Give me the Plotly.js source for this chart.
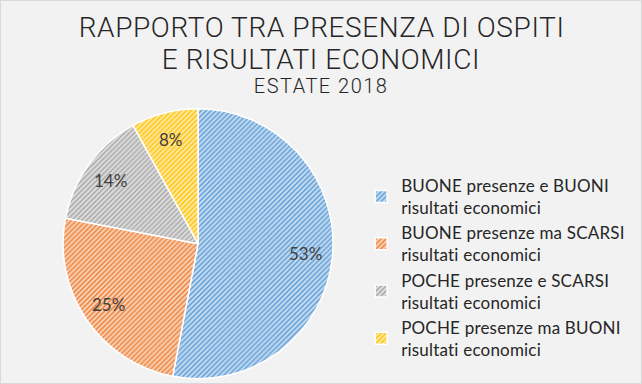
<!DOCTYPE html>
<html>
<head>
<meta charset="utf-8">
<script src="https://cdn.plot.ly/plotly-3.0.1.min.js"></script>
<style>
html,body{margin:0;padding:0;background:#f2f2f2;}
#chart{width:642px;height:384px;}
.legendtext{letter-spacing:0.2px;}
#chart g.annotation[data-index="0"] text,
#chart g.annotation[data-index="1"] text{letter-spacing:0.6px;}
#chart g.annotation[data-index="2"] text{letter-spacing:1.5px;}
</style>
</head>
<body>
<div id="chart"></div>
<script>
const categories = [
  "BUONE presenze e BUONI<br>risultati economici",
  "BUONE presenze ma SCARSI<br>risultati economici",
  "POCHE presenze e SCARSI<br>risultati economici",
  "POCHE presenze ma BUONI<br>risultati economici"
];
const values = [53, 25, 14, 8];
const fgColors = ["#5B9BD5", "#ED7D31", "#A5A5A5", "#FFC000"];
const bgColors = ["#C5DCF1", "#F9D2B8", "#DEDEDE", "#FFEAA6"];
const titleLines = ["RAPPORTO TRA PRESENZA DI OSPITI", "E RISULTATI ECONOMICI", "ESTATE 2018"];

const font = "Lato, 'Open Sans', sans-serif";
const titleFont = "Roboto, Lato, sans-serif";

const pieDomain = {x: [0.098, 0.519], y: [0.014, 0.717]};
const W = 642, H = 384;

const trace = {
  type: "pie",
  labels: categories,
  values: values,
  sort: false,
  direction: "clockwise",
  rotation: 0,
  textinfo: "none",
  marker: {
    colors: bgColors,
    line: {color: "#ffffff", width: 1.5},
    pattern: {shape: "/", fgcolor: fgColors, bgcolor: bgColors, size: 3.5, solidity: 0.4}
  },
  domain: pieDomain,
  hoverinfo: "none"
};

// percentage labels placed at 0.8 of the radius along each slice's mid angle
const total = values.reduce((a, b) => a + b, 0);
const cxPx = (pieDomain.x[0] + pieDomain.x[1]) / 2 * W;
const cyPx = (pieDomain.y[0] + pieDomain.y[1]) / 2 * H;
const rPx = Math.min((pieDomain.x[1] - pieDomain.x[0]) * W, (pieDomain.y[1] - pieDomain.y[0]) * H) / 2;
let cum = 0;
const pctAnnotations = values.map(v => {
  const mid = (cum + v / 2) / total * 2 * Math.PI;
  cum += v;
  const d = 0.8 * rPx;
  return {
    text: Math.round(v / total * 100) + "%",
    x: (cxPx + d * Math.sin(mid)) / W,
    y: (cyPx + d * Math.cos(mid)) / H,
    xref: "paper", yref: "paper", showarrow: false,
    xanchor: "center", yanchor: "middle",
    font: {family: font, size: 17, color: "#404040"}
  };
});

const titleAnnotations = titleLines.map((t, i) => ({
  text: t, x: 0.5, xref: "paper", yref: "paper", showarrow: false,
  y: [1 - 28/H, 1 - 59/H, 1 - 86/H][i], yanchor: "middle", xanchor: "center",
  font: {family: titleFont, size: i < 2 ? 28 : 20, color: "#262626", weight: 300}
}));

const layout = {
  width: W, height: H,
  margin: {l: 0, r: 0, t: 0, b: 0},
  paper_bgcolor: "#f2f2f2",
  showlegend: true,
  legend: {
    x: 0.5625, y: 0.5625, xanchor: "left", yanchor: "top",
    font: {family: font, size: 17, color: "#262626"},
    itemwidth: 30,
    bgcolor: "rgba(0,0,0,0)"
  },
  annotations: titleAnnotations.concat(pctAnnotations),
  shapes: [
    {type: "rect", xref: "paper", yref: "paper", x0: 0, x1: 1, y0: 0, y1: 1,
     line: {color: "#d9d9d9", width: 2}}
  ]
};

Plotly.newPlot("chart", [trace], layout, {displayModeBar: false, staticPlot: true});
</script>
</body>
</html>
